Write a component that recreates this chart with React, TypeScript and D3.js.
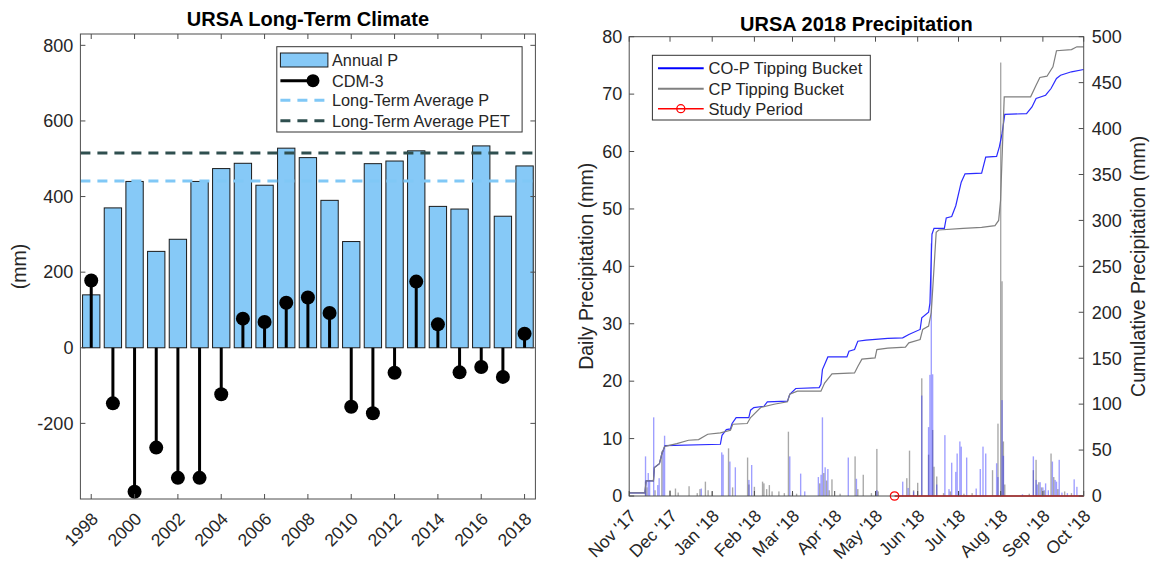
import React from 'react';
import * as d3 from 'd3';

// ---------------- Left chart data ----------------
const years = [1998, 1999, 2000, 2001, 2002, 2003, 2004, 2005, 2006, 2007, 2008, 2009, 2010, 2011, 2012, 2013, 2014, 2015, 2016, 2017, 2018];
const annualP = [140, 370, 440, 255, 287, 440, 474, 488, 430, 528, 503, 390, 281, 487, 494, 521, 374, 367, 534, 348, 481];
const cdm3 = [178, -147, -381, -264, -344, -344, -123, 77, 68, 119, 133, 92, -156, -173, -66, 175, 62, -65, -51, -77, 37];
const longTermAvgP = 441;
const longTermAvgPET = 515;
const leftYTicks = [-200, 0, 200, 400, 600, 800];
const leftXTicks = [1998, 2000, 2002, 2004, 2006, 2008, 2010, 2012, 2014, 2016, 2018];
const leftLegend = ['Annual P', 'CDM-3', 'Long-Term Average P', 'Long-Term Average PET'];

// ---------------- Right chart data (day offsets from 1 Nov 2017) ----------------
const cumCOP: [number, number][] = [
  [0, 3.5], [11.6, 3.5], [12.4, 16.4], [17.8, 16.4], [18.5, 30.9], [22.2, 35.2], [23.9, 45.4], [25.9, 53.4],
  [26.4, 54.9], [67, 56.3], [68.2, 66.1], [71.4, 72.3], [74.4, 73], [75.6, 78.9], [78.6, 85.4], [87.9, 85.4],
  [89.2, 93.4], [91.6, 96.3], [99, 97.7], [101.5, 102.5], [116.3, 103.2], [118, 110.8], [122.4, 117],
  [139.6, 118], [140.9, 121.7], [142, 137.6], [146, 151.4], [160, 151.4], [161.5, 157.6], [165.6, 159.4],
  [168, 168.5], [174, 169.6], [190, 171.5], [201, 172.2], [205.5, 175.8], [213.8, 181.3], [215, 194],
  [220, 200], [221, 210], [222.5, 285], [224, 291.4], [231.6, 291.4], [233, 302.7], [237, 304.2],
  [240, 316], [244, 341.6], [246.8, 350.7], [259, 351.5], [262, 369], [270, 369.7], [272, 380],
  [274, 394.4], [276, 415.5], [292, 416.2], [296, 423.5], [299, 432.7], [306, 436.3], [310, 443.6],
  [314, 454.5], [317, 458], [325, 461.8], [334, 464.3]
];
const cumCP: [number, number][] = [
  [0, 3.5], [11.6, 3.5], [12.4, 16.4], [17.8, 16.4], [18.5, 30.9], [22.2, 35.2], [23.9, 45.4], [25.9, 53.4],
  [26.4, 54.1], [35, 57], [43.6, 60.7], [51, 61.4], [57.7, 67.2], [67, 68.7], [74.4, 71.6], [76.1, 78.1],
  [86.7, 78.9], [89.2, 85.4], [96.6, 96.3], [106.4, 99.9], [116.3, 102.5], [118, 110.8], [123.6, 114.1],
  [140.9, 114.1], [143.6, 123], [149, 133], [165.6, 134], [168, 141], [171, 149], [180.7, 150.3],
  [182, 159.4], [190, 161], [203, 162], [205.5, 166.7], [213.8, 170.4], [215.7, 181.3], [220, 185],
  [222, 200], [225.6, 287], [227.5, 289.6], [245.4, 291.4], [259, 292.5], [268.8, 294.4], [271.5, 300],
  [272.9, 321.7], [275.6, 434.5], [295, 434.5], [299, 447.2], [301.8, 455.6], [307, 457], [311.4, 467.2],
  [314, 484.7], [325, 486], [329, 489], [334, 489]
];
const dailyCOP: [number, number][] = [
  [12, 6.9], [14, 4.0], [15, 2.8], [18, 13.7], [21, 1.9], [22, 3.1], [25, 8.0], [26, 10.5], [53, 1.3],
  [68, 7.6], [69, 7.2], [74, 6.0], [78, 5.0], [88, 2.8], [90, 5.4], [118, 6.9], [126, 3.9], [129, 0.8],
  [139, 3.3], [141, 3.7], [142, 13.7], [144, 5.0], [146, 4.7], [161, 6.7], [167, 3.0], [182, 1.0],
  [201, 2.5], [205, 1.4], [209, 0.8], [215, 17.5], [220, 12], [221, 21.1], [222, 44], [223, 21.2],
  [226, 2.0], [232, 10.6], [235, 1.2], [237, 5.8], [240, 4.2], [241, 7.4], [243, 9.5], [244, 8.6],
  [248, 6.7], [255, 1.3], [258, 4.7], [260, 8.6], [262, 7.4], [270, 5.7], [271, 3.3], [274, 16.7],
  [275, 7.0], [289, 0.3], [297, 6.9], [299, 2.8], [300, 2.0], [302, 2.4], [304, 1.5], [306, 2.2],
  [308, 1.0], [311, 6.0], [313, 2.8], [314, 2.5], [316, 6.3], [318, 0.6], [322, 0.5], [327, 2.9], [329, 1.6]
];
const dailyCP: [number, number][] = [
  [12, 2.5], [13, 1.5], [19, 1.0], [24, 7.8], [30, 1.0], [34, 1.3], [36, 0.6], [44, 1.7], [50, 0.5],
  [52, 1.2], [56, 2.5], [58, 1.0], [61, 0.8], [73, 8.3], [76, 1.5], [87, 6.7], [88, 2.0], [92, 1.6],
  [98, 2.5], [99, 2.2], [101, 1.2], [103, 1.9], [105, 0.8], [110, 0.8], [114, 0.5], [117, 11.2],
  [120, 0.6], [123, 0.4], [140, 2.2], [143, 4.0], [145, 2.7], [147, 1.0], [149, 2.9], [155, 0.4],
  [166, 6.9], [168, 1.2], [172, 3.7], [178, 0.5], [182, 8.2], [183, 0.8], [204, 3.1], [206, 7.9],
  [209, 1.0], [212, 2.3], [215, 20.5], [220, 7.2], [223, 11.5], [224, 5.1], [226, 3.4], [231, 0.5],
  [236, 0.8], [246, 0.4], [252, 0.5], [267, 4.5], [271, 12.6], [273, 75.5], [274, 37.4], [275, 9.5],
  [276, 2.0], [294, 0.4], [297, 4.5], [299, 6.3], [301, 2.4], [303, 1.5], [305, 1.0], [310, 7.4],
  [312, 3.3], [315, 1.2], [320, 0.8], [325, 0.5]
];
const studyPeriod: [number, number][] = [[195, 0], [334, 0]];
const dailyTicks = [0, 10, 20, 30, 40, 50, 60, 70, 80];
const cumTicks = [0, 50, 100, 150, 200, 250, 300, 350, 400, 450, 500];
const rightLegend = ['CO-P Tipping Bucket', 'CP Tipping Bucket', 'Study Period'];

const START = new Date(2017, 10, 1);
const END = new Date(2018, 9, 1);
const dayDate = (d: number) => new Date(START.getTime() + d * 86400000);

const FONT = 'Liberation Sans, Arial, Helvetica, sans-serif';
const AX = '#4d4d4d';
const TXT = '#262626';

function LeftChart() {
  const L = { left: 80.4, right: 535.4, top: 34, bottom: 499 };
  const x = d3.scaleLinear().domain([1997.5, 2018.5]).range([L.left, L.right]);
  const y = d3.scaleLinear().domain([-400, 830]).range([L.bottom, L.top]);
  const bw = (x(1) - x(0)) * 0.8;
  const tk = 5;
  const lx = 280.4, ly = [60, 80.7, 100.3, 120.7];
  return (
    <g fontFamily={FONT}>
      <rect x={L.left} y={L.top} width={L.right - L.left} height={L.bottom - L.top} fill="#fff" />
      {years.map((yr, i) => (
        <rect key={yr} x={x(yr) - bw / 2} y={y(Math.max(0, annualP[i]))} width={bw}
          height={Math.abs(y(annualP[i]) - y(0))} fill="#86c9f7" stroke="#1a1a1a" strokeWidth={1} />
      ))}
      <line x1={L.left} x2={L.right} y1={y(longTermAvgP)} y2={y(longTermAvgP)} stroke="#80c8f6" strokeWidth={3} strokeDasharray="10,7" />
      <line x1={L.left} x2={L.right} y1={y(longTermAvgPET)} y2={y(longTermAvgPET)} stroke="#2f4f4f" strokeWidth={3} strokeDasharray="10,7" />
      {years.map((yr, i) => (
        <g key={'s' + yr}>
          <line x1={x(yr)} x2={x(yr)} y1={y(0)} y2={y(cdm3[i])} stroke="#000" strokeWidth={3} />
          <circle cx={x(yr)} cy={y(cdm3[i])} r={7} fill="#000" />
        </g>
      ))}
      <rect x={L.left} y={L.top} width={L.right - L.left} height={L.bottom - L.top} fill="none" stroke={AX} strokeWidth={1} />
      {leftYTicks.map(t => (
        <g key={'yt' + t}>
          <line x1={L.left} x2={L.left + tk} y1={y(t)} y2={y(t)} stroke={AX} />
          <line x1={L.right} x2={L.right - tk} y1={y(t)} y2={y(t)} stroke={AX} />
          <text x={L.left - 7} y={y(t)} dy="0.35em" textAnchor="end" fontSize={18} fill={TXT}>{t}</text>
        </g>
      ))}
      {leftXTicks.map(t => (
        <g key={'xt' + t}>
          <line x1={x(t)} x2={x(t)} y1={L.bottom} y2={L.bottom - tk} stroke={AX} />
          <line x1={x(t)} x2={x(t)} y1={L.top} y2={L.top + tk} stroke={AX} />
          <text transform={`translate(${x(t) + 8},${L.bottom + 21}) rotate(-45)`} textAnchor="end" fontSize={17.5} fill={TXT}>{t}</text>
        </g>
      ))}
      <text x={(L.left + L.right) / 2} y={26} textAnchor="middle" fontSize={20} fontWeight="bold" fill="#000">URSA Long-Term Climate</text>
      <text transform={`translate(26,${(L.top + L.bottom) / 2}) rotate(-90)`} textAnchor="middle" fontSize={19.5} fill={TXT}>(mm)</text>
      {/* legend */}
      <rect x={276.8} y={46.7} width={522.1 - 276.8} height={132 - 46.7} fill="#fff" stroke="#333" strokeWidth={1} />
      <rect x={lx} y={ly[0] - 7} width={47.5} height={14} fill="#86c9f7" stroke="#1a1a1a" />
      <line x1={lx} x2={313} y1={ly[1]} y2={ly[1]} stroke="#000" strokeWidth={3} />
      <circle cx={313} cy={ly[1]} r={6.5} fill="#000" />
      <line x1={lx} x2={328} y1={ly[2]} y2={ly[2]} stroke="#80c8f6" strokeWidth={3} strokeDasharray="10,7" />
      <line x1={lx} x2={328} y1={ly[3]} y2={ly[3]} stroke="#2f4f4f" strokeWidth={3} strokeDasharray="10,7" />
      {leftLegend.map((s, i) => (
        <text key={s} x={332} y={ly[i]} dy="0.36em" fontSize={16.3} fill={TXT}>{s}</text>
      ))}
    </g>
  );
}

function RightChart() {
  const R = { left: 629.2, right: 1083.7, top: 36.7, bottom: 496 };
  const x = d3.scaleTime().domain([START, END]).range([R.left, R.right]);
  const yD = d3.scaleLinear().domain([0, 80]).range([R.bottom, R.top]);
  const yC = d3.scaleLinear().domain([0, 500]).range([R.bottom, R.top]);
  const months = d3.timeMonth.range(START, d3.timeDay.offset(END, 1));
  const fmt = d3.timeFormat("%b '%y");
  const bw = x(dayDate(1)) - x(dayDate(0));
  const line = d3.line<[number, number]>().x(d => x(dayDate(d[0]))).y(d => yC(d[1]));
  const tk = 5;
  const ly = [68.3, 88.7, 108.7];
  return (
    <g fontFamily={FONT}>
      {dailyCP.map(([d, v]) => (
        <rect key={'g' + d} x={x(dayDate(d)) - bw / 2} y={yD(v)} width={bw} height={yD(0) - yD(v)} fill="#6e6e6e" fillOpacity={0.6} />
      ))}
      {dailyCOP.map(([d, v]) => (
        <rect key={'b' + d} x={x(dayDate(d)) - bw / 2} y={yD(v)} width={bw} height={yD(0) - yD(v)} fill="#2a2aff" fillOpacity={0.45} />
      ))}
      <path d={line(cumCOP) || ''} fill="none" stroke="#2b2bff" strokeWidth={1.2} />
      <path d={line(cumCP) || ''} fill="none" stroke="#7f7f7f" strokeWidth={1.2} />
      <path d={line(studyPeriod) || ''} fill="none" stroke="#ff0000" strokeWidth={1.6} />
      <circle cx={x(dayDate(studyPeriod[0][0]))} cy={yC(0)} r={4.2} fill="none" stroke="#ff0000" strokeWidth={1.3} />
      <rect x={R.left} y={R.top} width={R.right - R.left} height={R.bottom - R.top} fill="none" stroke={AX} strokeWidth={1} />
      {dailyTicks.map(t => (
        <g key={'dt' + t}>
          <line x1={R.left} x2={R.left + tk} y1={yD(t)} y2={yD(t)} stroke={AX} />
          <text x={R.left - 7} y={yD(t)} dy="0.35em" textAnchor="end" fontSize={18} fill={TXT}>{t}</text>
        </g>
      ))}
      {cumTicks.map(t => (
        <g key={'ct' + t}>
          <line x1={R.right} x2={R.right - tk} y1={yC(t)} y2={yC(t)} stroke={AX} />
          <text x={R.right + 8} y={yC(t)} dy="0.35em" textAnchor="start" fontSize={18} fill={TXT}>{t}</text>
        </g>
      ))}
      {months.map(m => (
        <g key={m.toISOString()}>
          <line x1={x(m)} x2={x(m)} y1={R.bottom} y2={R.bottom - tk} stroke={AX} />
          <line x1={x(m)} x2={x(m)} y1={R.top} y2={R.top + tk} stroke={AX} />
          <text transform={`translate(${x(m) + 8},${R.bottom + 21}) rotate(-45)`} textAnchor="end" fontSize={17.5} fill={TXT}>{fmt(m)}</text>
        </g>
      ))}
      <text x={(R.left + R.right) / 2} y={31} textAnchor="middle" fontSize={20} fontWeight="bold" fill="#000">URSA 2018 Precipitation</text>
      <text transform={`translate(593,${(R.top + R.bottom) / 2}) rotate(-90)`} textAnchor="middle" fontSize={19.5} fill={TXT}>Daily Precipitation (mm)</text>
      <text transform={`translate(1145,${(R.top + R.bottom) / 2}) rotate(-90)`} textAnchor="middle" fontSize={19.5} fill={TXT}>Cumulative Precipitation (mm)</text>
      {/* legend */}
      <rect x={652.4} y={55.3} width={870.3 - 652.4} height={120 - 55.3} fill="#fff" stroke="#333" strokeWidth={1} />
      <line x1={658} x2={703.7} y1={ly[0]} y2={ly[0]} stroke="#0000ff" strokeWidth={2} />
      <line x1={658} x2={703.7} y1={ly[1]} y2={ly[1]} stroke="#808080" strokeWidth={2} />
      <line x1={658} x2={703.7} y1={ly[2]} y2={ly[2]} stroke="#ff0000" strokeWidth={1.5} />
      <circle cx={680.8} cy={ly[2]} r={4} fill="none" stroke="#ff0000" strokeWidth={1.3} />
      {rightLegend.map((s, i) => (
        <text key={s} x={708.5} y={ly[i]} dy="0.36em" fontSize={16.5} fill={TXT}>{s}</text>
      ))}
    </g>
  );
}

export default function App() {
  return (
    <svg width={1157} height={564} style={{ position: 'absolute', left: 0, top: 0, background: '#fff' }}>
      <rect width={1157} height={564} fill="#fff" />
      <LeftChart />
      <RightChart />
    </svg>
  );
}
